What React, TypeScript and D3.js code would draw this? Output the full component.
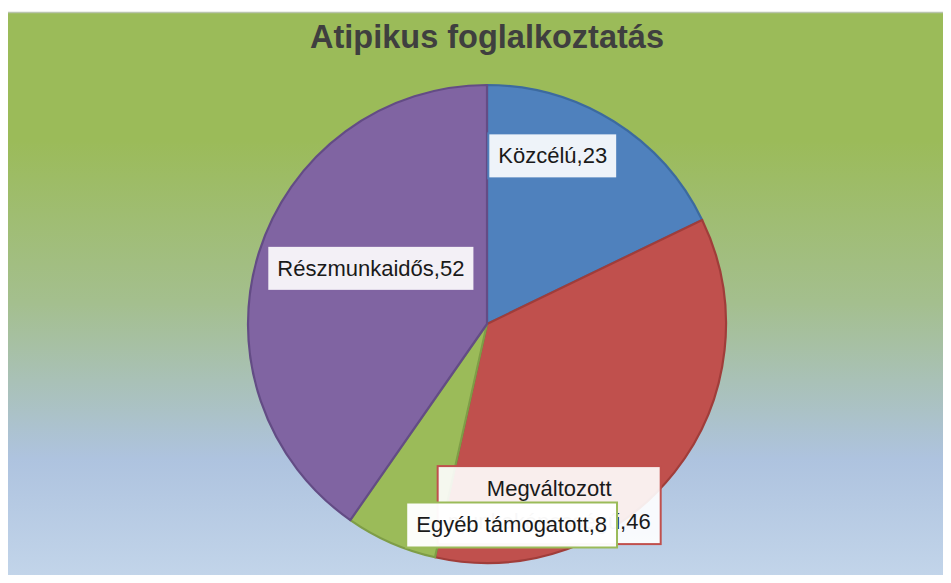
import React, { useEffect, useRef } from "react";
import * as d3 from "d3";

// data
const categories = ["Közcélú", "Megváltozott munkaképességű", "Egyéb támogatott", "Részmunkaidős"];
const values = [23, 46, 8, 52];
const labelLines = [["Közcélú,23"], ["Megváltozott", "munkaképességű,46"], ["Egyéb támogatott,8"], ["Részmunkaidős,52"]];

const fills = ["#4F81BD", "#C0504D", "#9BBB59", "#8064A2"];
const strokes = ["#3C6A9F", "#A03D3A", "#7E9D47", "#634C85"];
// where excel put the labels: angle (deg from north) and distance from centre
const labelPlace = [
  { a: 21.3, d: 181 },
  { a: 161, d: 191 },
  { a: 173, d: 202 },
  { a: 295.8, d: 129 },
];
// draw order so the small green label sits on top like in the picture
const labelOrder = [0, 3, 1, 2];

const width = 951;
const height = 583;

export default function App() {
  const ref = useRef<SVGSVGElement>(null);

  useEffect(() => {
    const svg = d3.select(ref.current);
    svg.selectAll("*").remove();

    const defs = svg.append("defs");
    const grad = defs.append("linearGradient")
      .attr("id", "bg").attr("x1", 0).attr("y1", 0).attr("x2", 0).attr("y2", 1);
    grad.append("stop").attr("offset", "0%").attr("stop-color", "#9BBB59");
    grad.append("stop").attr("offset", "22%").attr("stop-color", "#9BBB59");
    grad.append("stop").attr("offset", "50%").attr("stop-color", "#A4BF8E");
    grad.append("stop").attr("offset", "77%").attr("stop-color", "#AEC3DF");
    grad.append("stop").attr("offset", "100%").attr("stop-color", "#C5D7EB");

    // chart area
    svg.append("rect")
      .attr("x", 6.5).attr("y", 12.5)
      .attr("width", 960).attr("height", 580)
      .attr("fill", "url(#bg)")
      .attr("stroke", "#B9C4AD").attr("stroke-width", 1.5);

    svg.append("text")
      .attr("x", 487).attr("y", 48)
      .attr("text-anchor", "middle")
      .style("font-family", "'Liberation Sans', Arial, sans-serif")
      .style("font-weight", "bold")
      .style("font-size", "32.5px")
      .attr("fill", "#3F3F3F")
      .text("Atipikus foglalkoztatás");

    const cx = 487, cy = 324, r = 239;
    const pie = d3.pie<number>().sort(null).value(d => d);
    const arcs = pie(values);
    const arc = d3.arc<d3.PieArcDatum<number>>().innerRadius(0).outerRadius(r);

    const g = svg.append("g").attr("transform", `translate(${cx},${cy})`);
    g.selectAll("path")
      .data(arcs)
      .join("path")
      .attr("d", arc)
      .attr("fill", (d, i) => fills[i])
      .attr("stroke", (d, i) => strokes[i])
      .attr("stroke-width", 2.2)
      .attr("stroke-linejoin", "round");

    // labels
    const lineH = 33;
    labelOrder.forEach(i => {
      const p = labelPlace[i];
      const rad = (p.a * Math.PI) / 180;
      const lx = Math.sin(rad) * p.d;
      const ly = -Math.cos(rad) * p.d;
      const lg = g.append("g").attr("transform", `translate(${lx},${ly})`);
      const box = lg.append("rect");
      const lines = labelLines[i];
      const t = lg.append("text")
        .attr("text-anchor", "middle")
        .style("font-family", "'Liberation Sans', Arial, sans-serif")
        .style("font-size", "22px")
        .attr("fill", "#1A1A1A");
      lines.forEach((s, k) => {
        t.append("tspan")
          .attr("x", 0)
          .attr("y", (k - (lines.length - 1) / 2) * lineH + 8)
          .text(s);
      });
      const node = t.node() as SVGTextElement;
      const bb = node.getBBox();
      const padX = 10, padY = 10;
      box.attr("x", bb.x - padX).attr("y", bb.y - padY)
        .attr("width", bb.width + padX * 2).attr("height", bb.height + padY * 2)
        .attr("fill", "#FFFFFF").attr("fill-opacity", i === 2 ? 0.97 : 0.9)
        .attr("stroke", fills[i]).attr("stroke-width", 2);
    });
  }, []);

  return <svg ref={ref} width={width} height={height} style={{ display: "block", margin: "-8px" }} />;
}
